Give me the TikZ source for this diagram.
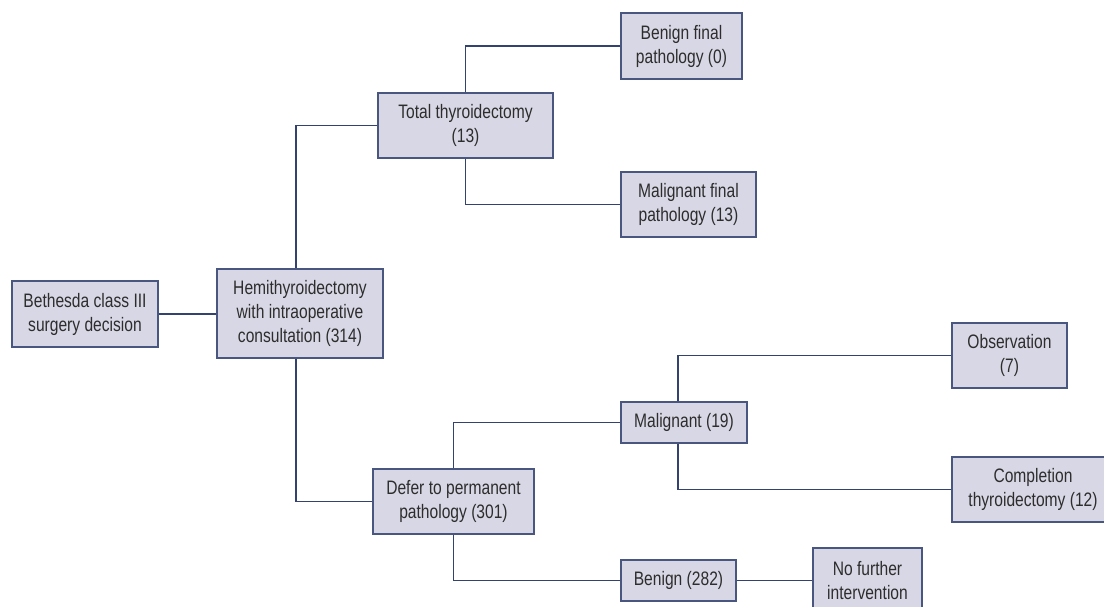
\documentclass[tikz,border=0pt]{standalone}
\usepackage{fontspec}
\setmainfont{Liberation Sans}[FakeStretch=0.8]
\definecolor{boxfill}{RGB}{216,215,229}
\definecolor{boxdraw}{RGB}{72,86,128}
\definecolor{linkcol}{RGB}{52,66,112}
\definecolor{txt}{RGB}{45,45,45}
\tikzset{
  box/.style={draw=boxdraw, line width=1.2pt, fill=boxfill, rectangle, align=center,
    inner sep=0pt, text=txt, font=\fontsize{19.5}{24}\selectfont},
  link/.style={draw=linkcol, line width=1.1pt}
}
\begin{document}
\begin{tikzpicture}[x=1pt,y=-1pt]
\useasboundingbox (0,0) rectangle (1104,607);
\clip (0,0) rectangle (1104,607);
\fill[white] (0,0) rectangle (1104,607);
% nodes: center, size
\node[box, minimum width=146pt, minimum height=66pt] (beth) at (85,314) {Bethesda class III\\surgery decision};
\node[box, minimum width=166pt, minimum height=89pt] (hemi) at (300,313.5) {Hemithyroidectomy\\with intraoperative\\consultation (314)};
\node[box, minimum width=175pt, minimum height=65pt] (total) at (465.5,125.5) {Total thyroidectomy\\(13)};
\node[box, minimum width=121pt, minimum height=66pt] (bfin) at (681.5,46) {Benign final\\pathology (0)};
\node[box, minimum width=135pt, minimum height=65pt] (mfin) at (688.5,204.5) {Malignant final\\pathology (13)};
\node[box, minimum width=161pt, minimum height=65pt] (defer) at (453.5,501.5) {Defer to permanent\\pathology (301)};
\node[box, minimum width=126pt, minimum height=41pt] (malig) at (684,422.5) {Malignant (19)};
\node[box, minimum width=115pt, minimum height=41pt] (benign) at (678.5,580.5) {Benign (282)};
\node[box, minimum width=115pt, minimum height=65pt] (obs) at (1009.5,355.5) {Observation\\(7)};
\node[box, minimum width=162pt, minimum height=65pt] (compl) at (1033,489.5) {Completion\\thyroidectomy (12)};
\node[box, minimum width=109pt, minimum height=66pt] (nofur) at (867.5,581) {No further\\intervention};
% connectors
\draw[link] (beth.east) -- (beth.east -| hemi.west);
\draw[link] ([xshift=-4pt]hemi.north) |- (total.west);
\draw[link] ([xshift=-4pt]hemi.south) |- (defer.west);
\draw[link] (total.north) |- (bfin.west);
\draw[link] (total.south) |- (mfin.west);
\draw[link] (defer.north) |- (malig.west);
\draw[link] (defer.south) |- (benign.west);
\draw[link] ([xshift=-6pt]malig.north) |- (obs.west);
\draw[link] ([xshift=-6pt]malig.south) |- (compl.west);
\draw[link] (benign.east) -- (benign.east -| nofur.west);
\end{tikzpicture}
\end{document}
